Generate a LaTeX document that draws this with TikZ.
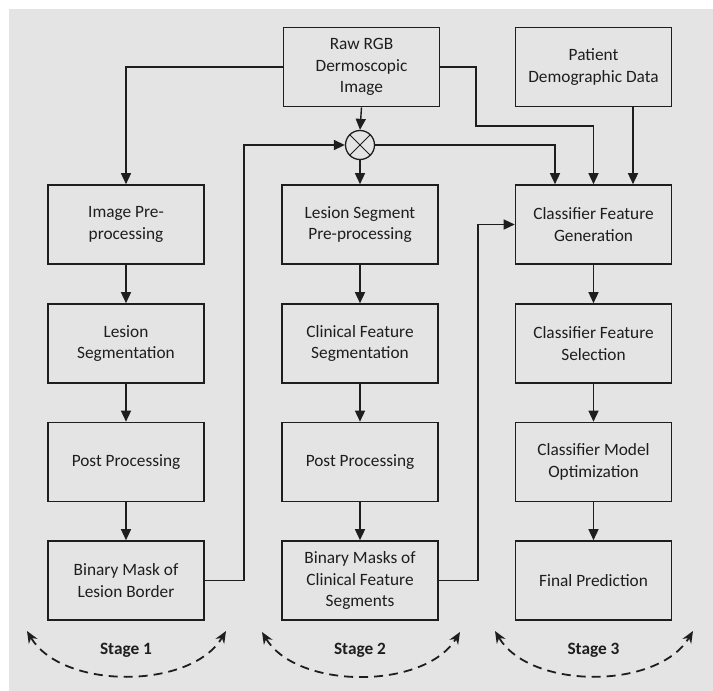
\documentclass[tikz,border=0pt]{standalone}
\usepackage{fontspec}
\setmainfont{Carlito}
\usetikzlibrary{arrows.meta}
\definecolor{bg}{HTML}{E4E4E4}
\definecolor{ink}{HTML}{1E1E1E}
\begin{document}
\begin{tikzpicture}[x=1pt,y=-1pt,
  box/.style={draw=ink,line width=1.6pt,minimum width=156pt,minimum height=79pt,inner sep=2pt,
    align=center,font=\fontsize{17.3}{21.7}\selectfont,text=ink},
  arr/.style={draw=ink,line width=1.4pt,-{Triangle[length=11pt,width=10pt]}},
  dasharr/.style={draw=ink,line width=1.8pt,dash pattern=on 9pt off 6pt,
    {Stealth[length=12pt,width=10pt]}-{Stealth[length=12pt,width=10pt]}},
  stagelbl/.style={font=\fontsize{17.3}{21.7}\selectfont\bfseries,text=ink},
  mulnode/.style={draw=ink,circle,line width=1.3pt,minimum size=29pt,inner sep=0pt,
    path picture={\draw[ink,line width=1pt] (path picture bounding box.south west) -- (path picture bounding box.north east)
      (path picture bounding box.north west) -- (path picture bounding box.south east);}}]
\useasboundingbox (0,0) rectangle (713,691);
\fill[white] (0,0) rectangle (713,691);
\fill[bg] (9,9) rectangle (713,691);

% top row
\node[box] (raw) at (361.5,67) {Raw RGB\\Dermoscopic\\Image};
\node[box] (pat) at (593.5,67) {Patient\\Demographic Data};
% left column
\node[box] (ip)  at (126,224.5) {Image Pre-\\processing};
\node[box] (ls)  at (126,343.5) {Lesion\\Segmentation};
\node[box] (pp1) at (126,462) {Post Processing};
\node[box] (bml) at (126,580.5) {Binary Mask of\\Lesion Border};
% middle column
\node[box] (lsp) at (360,224.5) {Lesion Segment\\Pre-processing};
\node[box] (cfs) at (360,343.5) {Clinical Feature\\Segmentation};
\node[box] (pp2) at (360,462) {Post Processing};
\node[box] (bmc) at (360,580.5) {Binary Masks of\\Clinical Feature\\Segments};
% right column
\node[box] (cfg) at (593.5,224.5) {Classifier Feature\\Generation};
\node[box] (cfsel) at (593.5,343.5) {Classifier Feature\\Selection};
\node[box] (cmo) at (593.5,462) {Classifier Model\\Optimization};
\node[box] (fp)  at (593.5,580.5) {Final Prediction};
% multiplier
\node[mulnode] (mul) at (360,145) {};

% helper coordinates
\coordinate (k1) at (476,126);
\coordinate (k2) at ([xshift=-38.5pt]cfg.north);
\coordinate (k3) at (244,580.5);
\coordinate (k4) at (478,580.5);

% connectors
\draw[arr] (raw.west) -| (ip.north);
\draw[arr] (raw.east) -| (k1) -| (cfg.north);
\draw[arr] (raw.south) -- (mul.north);
\draw[arr] (mul.south) -- (lsp.north);
\draw[arr] (mul.east) -| (k2);
\draw[arr] ([xshift=39.5pt]pat.south) -- ([xshift=39.5pt]cfg.north);
\draw[arr] (bml.east) -- (k3) |- (mul.west);
\draw[arr] (bmc.east) -- (k4) |- (cfg.west);

\draw[arr] (ip) -- (ls);
\draw[arr] (ls) -- (pp1);
\draw[arr] (pp1) -- (bml);
\draw[arr] (lsp) -- (cfs);
\draw[arr] (cfs) -- (pp2);
\draw[arr] (pp2) -- (bmc);
\draw[arr] (cfg) -- (cfsel);
\draw[arr] (cfsel) -- (cmo);
\draw[arr] (cmo) -- (fp);

% stages
\coordinate (s1l) at (27,631);  \coordinate (s1r) at (226,631);
\coordinate (s2l) at (262,632); \coordinate (s2r) at (460,632);
\coordinate (s3l) at (495,631); \coordinate (s3r) at (693,631);
\draw[dasharr] (s1l) .. controls (62,690) and (191,690) .. (s1r);
\draw[dasharr] (s2l) .. controls (297,690) and (425,690) .. (s2r);
\draw[dasharr] (s3l) .. controls (530,690) and (658,690) .. (s3r);
\node[stagelbl] (st1) at (126,650) {Stage 1};
\node[stagelbl] (st2) at (360,650) {Stage 2};
\node[stagelbl] (st3) at (593.5,650) {Stage 3};
\end{tikzpicture}
\end{document}
